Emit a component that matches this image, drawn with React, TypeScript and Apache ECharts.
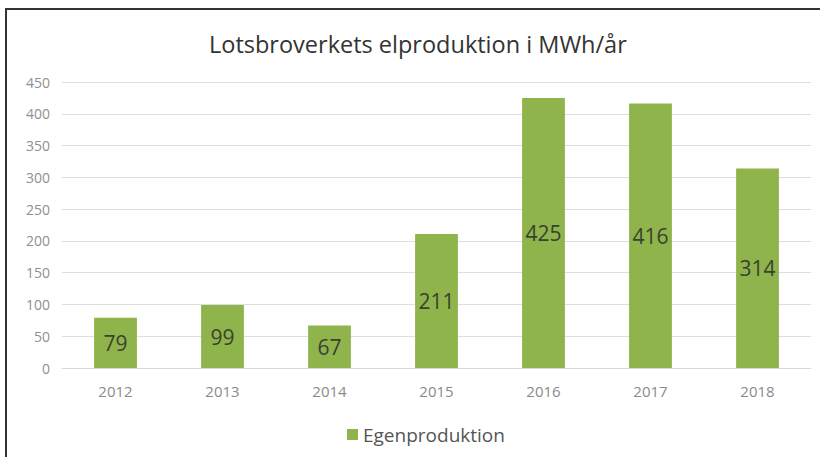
import React, { useEffect, useRef } from "react";
import * as echarts from "echarts";

const title = "Lotsbroverkets elproduktion i MWh/år";
const seriesName = "Egenproduktion";
const years = ["2012", "2013", "2014", "2015", "2016", "2017", "2018"];
const values = [79, 99, 67, 211, 425, 416, 314];
const yTicks = { min: 0, max: 450, interval: 50 };

export default function App() {
  const ref = useRef<HTMLDivElement>(null);
  useEffect(() => {
    const chart = echarts.init(ref.current!, null, { renderer: "svg" });
    chart.setOption({
      animation: false,
      backgroundColor: "#ffffff",
      title: {
        text: title,
        left: 204,
        top: 27,
        textStyle: { fontFamily: "Open Sans", fontSize: 23.5, fontWeight: "normal", color: "#333333" },
      },
      legend: {
        bottom: 8,
        left: 342,
        itemWidth: 11,
        itemHeight: 11,
        itemGap: 10,
        icon: "rect",
        textStyle: { fontFamily: "Open Sans", fontSize: 19, color: "#555555" },
        data: [seriesName],
      },
      grid: { left: 62, right: 9, top: 82, bottom: 89 },
      xAxis: {
        type: "category",
        data: years,
        axisLine: { show: true, lineStyle: { color: "#d9d9d9" } },
        axisTick: { show: false },
        axisLabel: { fontFamily: "Open Sans", fontSize: 15, color: "#8a8a8a", margin: 15 },
      },
      yAxis: {
        type: "value",
        min: yTicks.min,
        max: yTicks.max,
        interval: yTicks.interval,
        axisLine: { show: false },
        axisTick: { show: false },
        axisLabel: { fontFamily: "Open Sans", fontSize: 14, color: "#8f8f8f", margin: 12 },
        splitLine: { lineStyle: { color: "#dedede" } },
      },
      series: [
        {
          name: seriesName,
          type: "bar",
          data: values,
          barWidth: "40%",
          itemStyle: { color: "#8fb44b" },
          label: {
            show: true,
            position: "inside",
            fontFamily: "Open Sans",
            fontSize: 21,
            color: "#3a4230",
          },
        },
      ],
      graphic: [
        {
          type: "rect",
          shape: { x: 6, y: 9, width: 830, height: 470 },
          style: { fill: "none", stroke: "#333333", lineWidth: 2 },
          silent: true,
        },
      ],
    });
    return () => chart.dispose();
  }, []);
  return (
    <div
      ref={ref}
      style={{ width: 820, height: 457, position: "absolute", left: 0, top: 0 }}
    />
  );
}
